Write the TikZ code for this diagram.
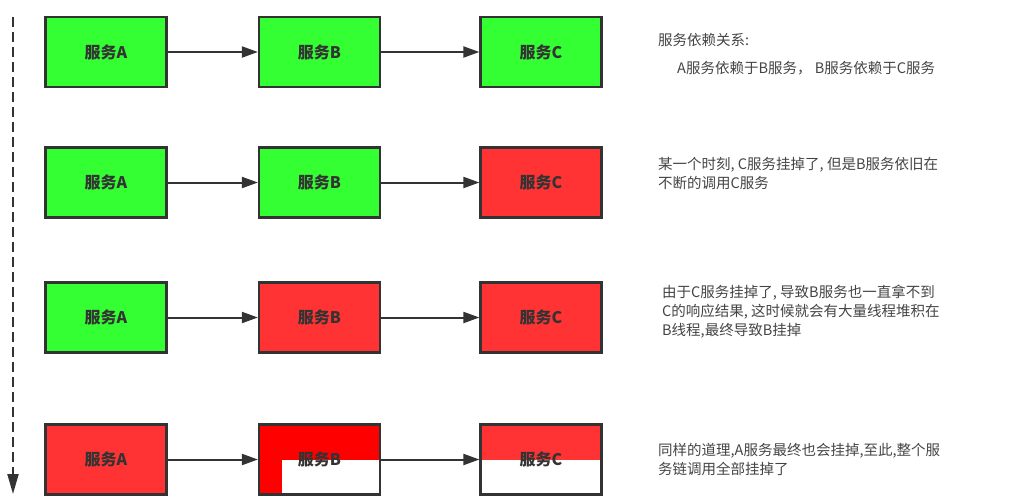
\documentclass[tikz,border=0pt]{standalone}
\usepackage{fontspec}
\setmainfont{Noto Sans CJK SC}
\usetikzlibrary{arrows.meta,positioning}
\definecolor{svgreen}{RGB}{51,255,51}
\definecolor{svred}{RGB}{255,51,51}
\definecolor{svdeepred}{RGB}{255,0,0}
\definecolor{svgray}{RGB}{51,51,51}
\definecolor{svtext}{RGB}{68,68,68}
\tikzstyle{arrow} = [line width=2pt,-{Triangle[length=16pt,width=11pt]},color=svgray]

\begin{document}
\begin{tikzpicture}[x=1pt, y=-1pt,
    service/.style={rectangle, draw=svgray, line width=2.2pt, minimum width=121pt, minimum height=70pt, text=svgray, font=\bfseries\fontsize{16}{18}\selectfont},
    note/.style={anchor=north west, inner sep=0pt, align=left, text=svtext, font=\fontsize{14.5}{18.7}\selectfont}]
\useasboundingbox (0,0) rectangle (1013,499);

% Time axis
\coordinate (start) at (13,17);
\coordinate (end) at (13,494);
\draw[line width=2pt, svgray, dash pattern=on 10pt off 5pt, -{Triangle[length=20pt,width=11pt]}] (start) -- (end);

% Row 1
\node[service, fill=svgreen] (a1) at (106,52) {服务A};
\node[service, fill=svgreen] (b1) at (319.5,52) {服务B};
\node[service, fill=svgreen] (c1) at (541,52) {服务C};

% Row 2
\node[service, fill=svgreen] (a2) at (106,182.5) {服务A};
\node[service, fill=svgreen] (b2) at (319.5,182.5) {服务B};
\node[service, fill=svred] (c2) at (541,182.5) {服务C};

% Row 3
\node[service, fill=svgreen] (a3) at (106,317.5) {服务A};
\node[service, fill=svred] (b3) at (319.5,317.5) {服务B};
\node[service, fill=svred] (c3) at (541,317.5) {服务C};

% Row 4
\node[service, fill=svred] (a4) at (106,459.5) {服务A};
\node[service, fill=svdeepred, path picture={\fill[white] ([xshift=-98pt]path picture bounding box.south east) rectangle (path picture bounding box.east);}] (b4) at (319.5,459.5) {服务B};
\node[service, fill=svred, path picture={\fill[white] (path picture bounding box.south west) rectangle (path picture bounding box.east);}] (c4) at (541,459.5) {服务C};

% Calls
\draw[arrow] (a1) -- (b1);
\draw[arrow] (b1) -- (c1);
\draw[arrow] (a2) -- (b2);
\draw[arrow] (b2) -- (c2);
\draw[arrow] (a3) -- (b3);
\draw[arrow] (b3) -- (c3);
\draw[arrow] (a4) -- (b4);
\draw[arrow] (b4) -- (c4);

% Notes
\node[note] (title1) at (658,33) {服务依赖关系:};
\node[note] (note1) at (677,61) {A服务依赖于B服务， B服务依赖于C服务};
\node[note] (note2) at (658,157) {某一个时刻, C服务挂掉了, 但是B服务依旧在\\不断的调用C服务};
\node[note] (note3) at (662,285) {由于C服务挂掉了, 导致B服务也一直拿不到\\C的响应结果, 这时候就会有大量线程堆积在\\B线程,最终导致B挂掉};
\node[note] (note4) at (658,443) {同样的道理,A服务最终也会挂掉,至此,整个服\\务链调用全部挂掉了};
\end{tikzpicture}
\end{document}
